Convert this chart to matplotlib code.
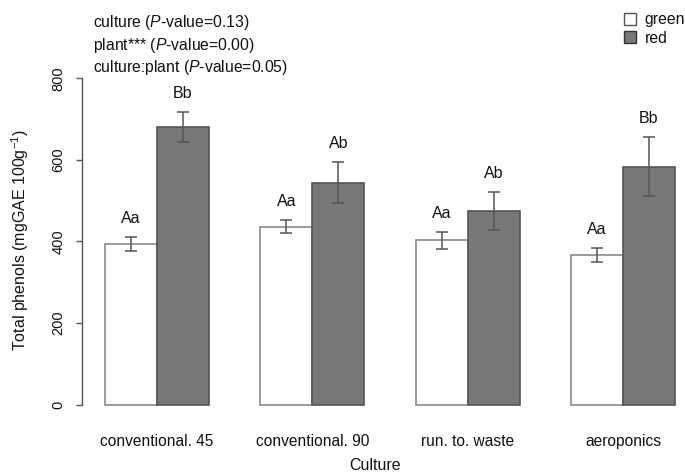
import matplotlib
matplotlib.use("Agg")
import matplotlib.pyplot as plt
import numpy as np
from matplotlib.lines import Line2D

categories = ["conventional. 45", "conventional. 90", "run. to. waste", "aeroponics"]
series_names = ["green", "red"]
green_mean = [393, 436, 403, 367]
green_se = [17, 16, 21, 17]
red_mean = [681, 544, 475, 583]
red_se = [36, 50, 46, 72]
green_letters = ["Aa", "Aa", "Aa", "Aa"]
red_letters = ["Bb", "Ab", "Ab", "Bb"]
yticks = [0, 200, 400, 600, 800]
stats_lines = ["culture ($\\mathit{P}$-value=0.13)",
               "plant*** ($\\mathit{P}$-value=0.00)",
               "culture:plant ($\\mathit{P}$-value=0.05)"]

plt.rcParams['font.family'] = ['Liberation Sans', 'DejaVu Sans']
plt.rcParams['mathtext.fontset'] = 'custom'
plt.rcParams['mathtext.it'] = 'Liberation Sans:italic'
plt.rcParams['mathtext.rm'] = 'Liberation Sans'

TXT = "#111111"
W, H = 685, 476
fig = plt.figure(figsize=(W / 100, H / 100), dpi=100)

left_px, right_px, top_px, bot_px = 81.5, 682, 60, 420
ax = fig.add_axes([left_px / W, 1 - bot_px / H, (right_px - left_px) / W, (bot_px - top_px) / H])

px_per_unit = (404.5 - 78.3) / 800
ax.set_ylim((404.5 - bot_px) / px_per_unit, (404.5 - top_px) / px_per_unit)
grp_px = 155.33
ax.set_xlim((left_px - 157) / grp_px, (right_px - 157) / grp_px)

x = np.arange(len(categories))
w = 52 / grp_px
ax.bar(x - w / 2, green_mean, width=w, color="white", edgecolor="#8a8a8a", linewidth=1.2, zorder=2)
ax.bar(x + w / 2, red_mean, width=w, color="#787878", edgecolor="#555555", linewidth=1.2, zorder=2)
ax.errorbar(x - w / 2, green_mean, yerr=green_se, fmt="none", ecolor="#555555",
            elinewidth=1.1, capsize=4.5, capthick=1.1, zorder=3)
ax.errorbar(x + w / 2, red_mean, yerr=red_se, fmt="none", ecolor="#555555",
            elinewidth=1.1, capsize=4.5, capthick=1.1, zorder=3)

for i in range(len(categories)):
    ax.annotate(green_letters[i], (x[i] - w / 2, green_mean[i] + green_se[i]),
                xytext=(0, 8), textcoords="offset points", ha="center", va="bottom",
                fontsize=11.5, color=TXT)
    ax.annotate(red_letters[i], (x[i] + w / 2, red_mean[i] + red_se[i]),
                xytext=(0, 8), textcoords="offset points", ha="center", va="bottom",
                fontsize=11.5, color=TXT)

for s in ["top", "right", "bottom"]:
    ax.spines[s].set_visible(False)
ax.spines["left"].set_bounds(0, 800)
ax.spines["left"].set_color("#555555")
ax.spines["left"].set_linewidth(1.0)
ax.set_yticks(yticks)
ax.set_yticklabels([str(v) for v in yticks], rotation=90, va="center", fontsize=10.5, color=TXT)
ax.tick_params(axis="y", length=4.5, width=1.0, color="#555555", pad=7)
ax.set_xticks(x)
ax.set_xticklabels(categories, fontsize=11.2, color=TXT)
ax.tick_params(axis="x", length=0, pad=10)

fig.text(20 / W, 1 - 240 / H, "Total phenols (mgGAE 100g$^{-1}$)", rotation=90,
         ha="center", va="center", fontsize=11.5, color=TXT)
fig.text(375 / W, 1 - 466 / H, "Culture", ha="center", va="center", fontsize=11.5, color=TXT)

for k, line in enumerate(stats_lines):
    fig.text(93 / W, 1 - (23 + 22.5 * k) / H, line, ha="left", va="center", fontsize=11.3, color=TXT)

handles = [Line2D([], [], marker="s", linestyle="none", markersize=9, markerfacecolor="white",
                  markeredgecolor="#555555"),
           Line2D([], [], marker="s", linestyle="none", markersize=9, markerfacecolor="#787878",
                  markeredgecolor="#333333")]
fig.legend(handles, series_names, loc="upper left", bbox_to_anchor=(622 / W, 1 - 12 / H),
           frameon=False, fontsize=11.3, handletextpad=0.45, labelspacing=0.25,
           handlelength=1.0, borderaxespad=0, borderpad=0, labelcolor=TXT)

fig.savefig("out.png", dpi=100)
